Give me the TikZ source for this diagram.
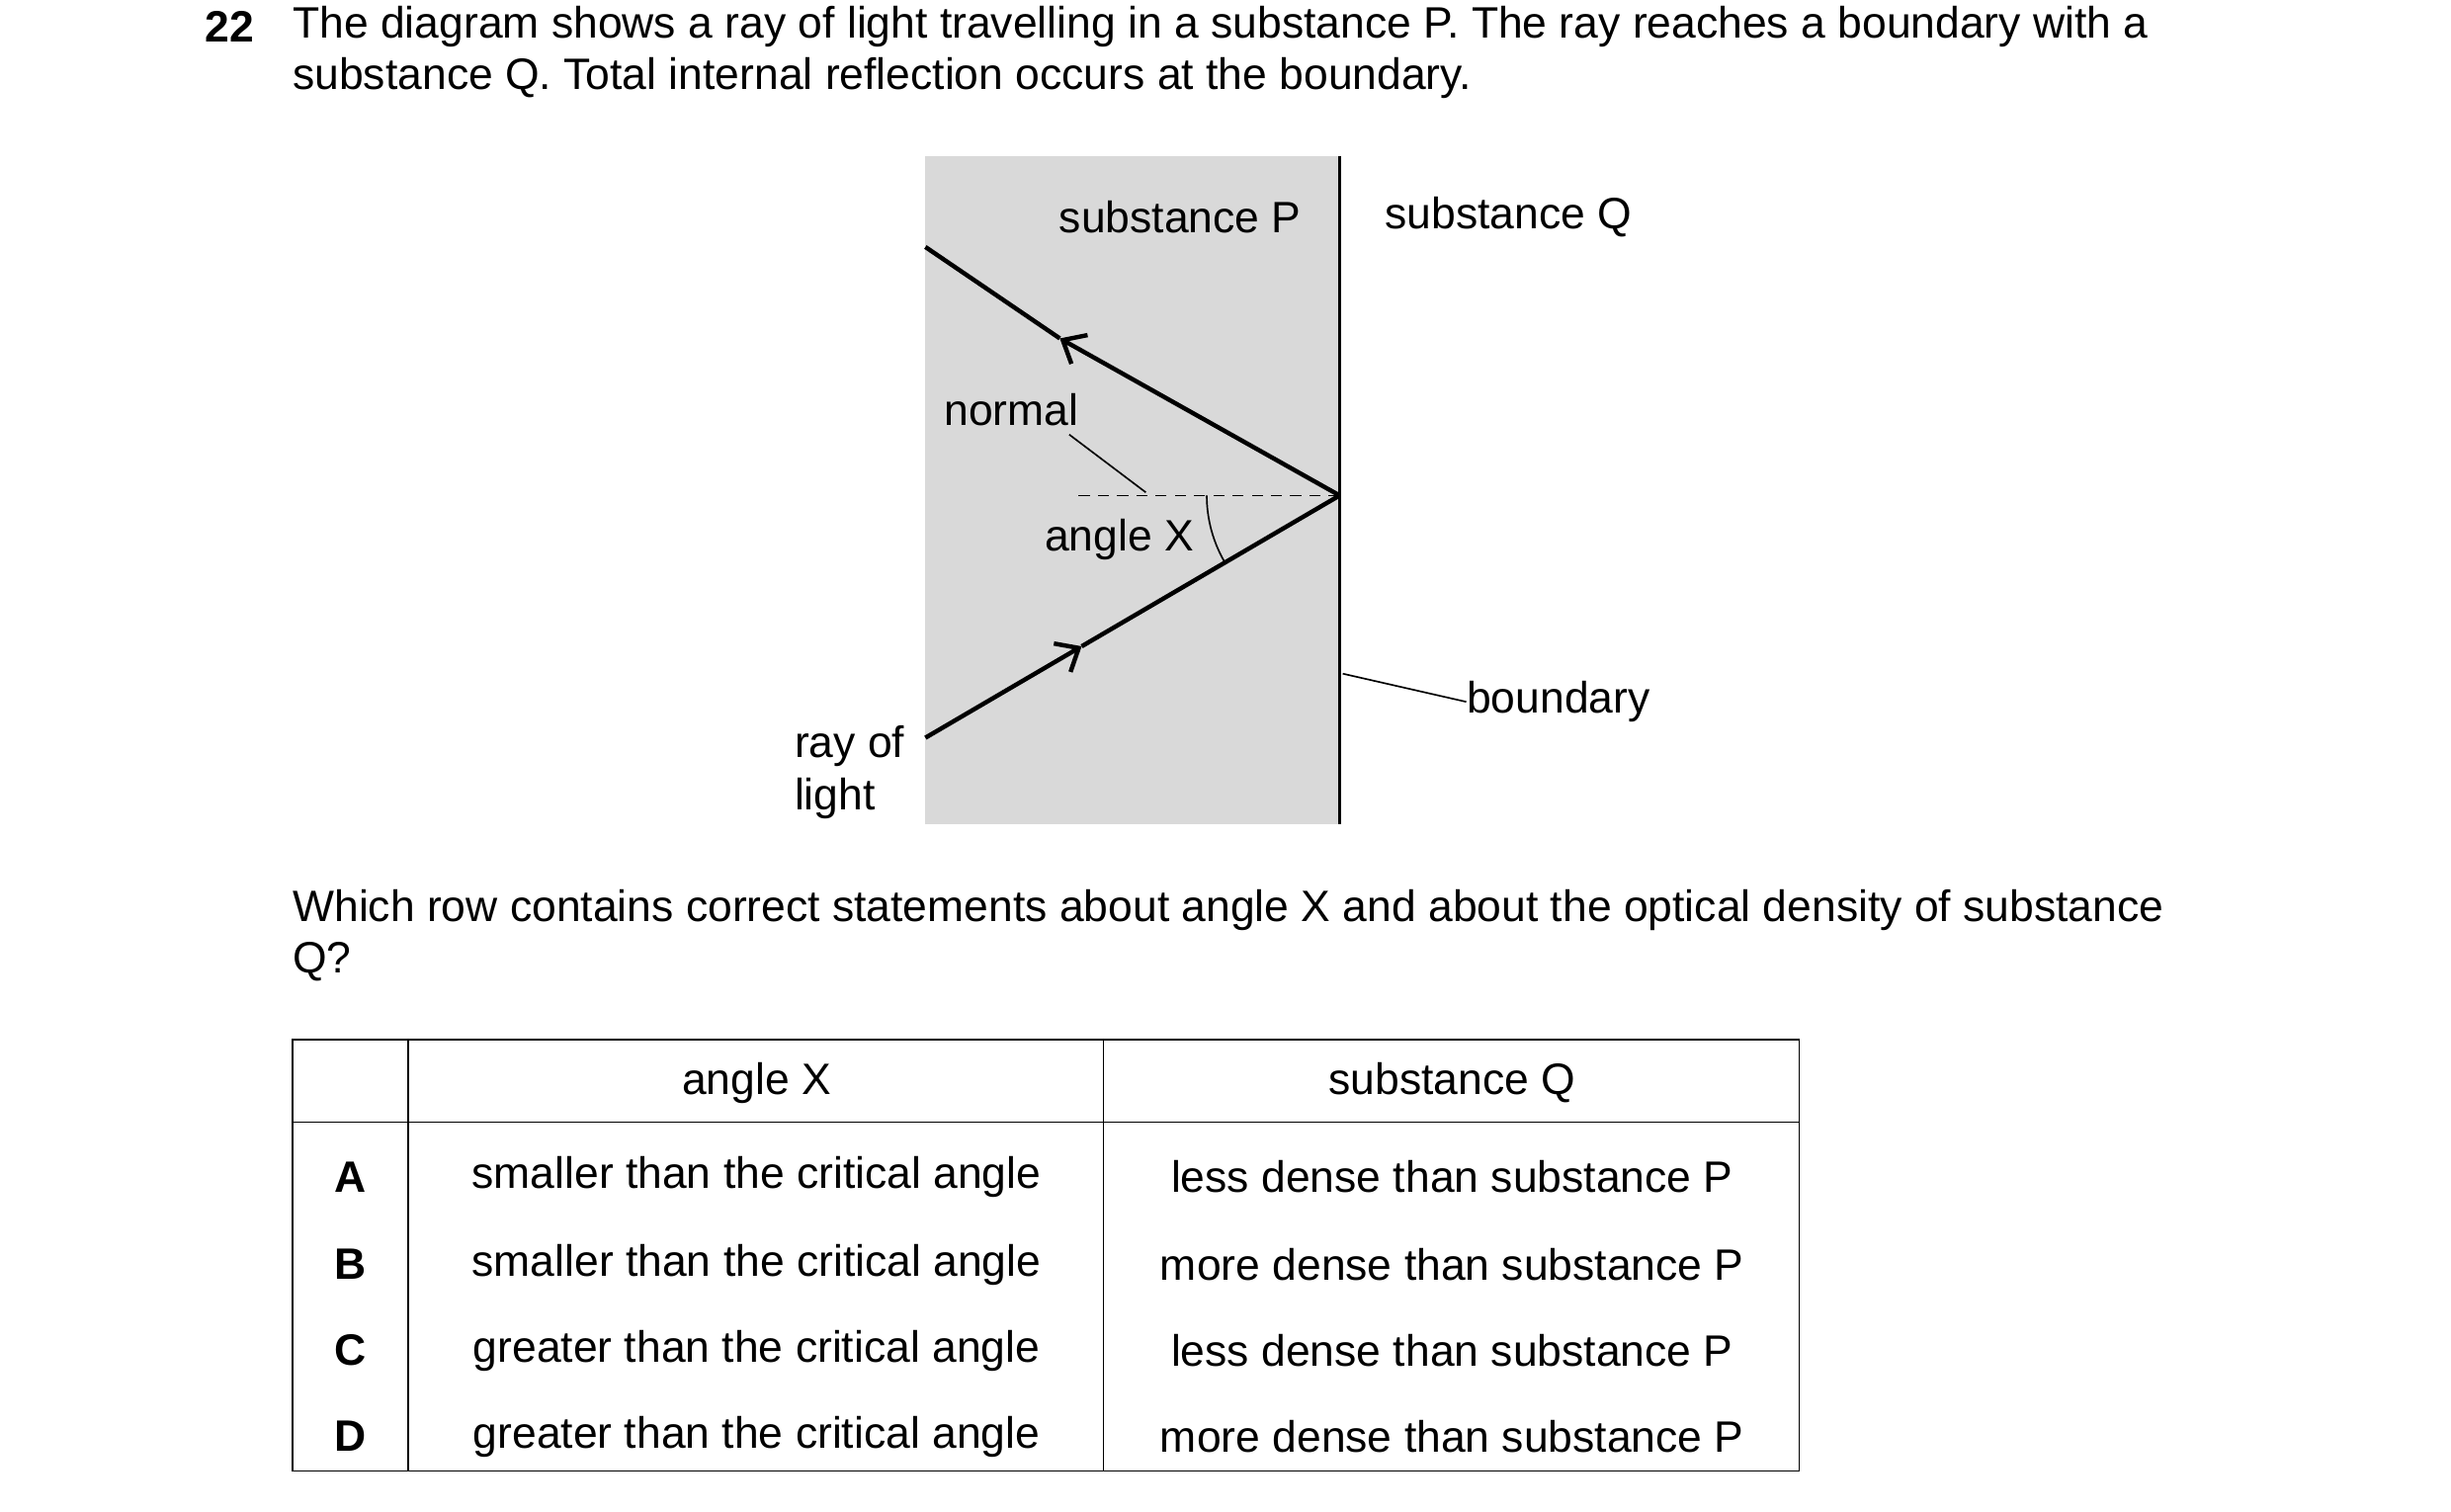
\documentclass[tikz,border=0pt]{standalone}
\usepackage{fontspec}
\setmainfont{Liberation Sans}
\usetikzlibrary{arrows.meta}
\begin{document}
\begin{tikzpicture}[x=0.02cm,y=-0.02cm,font=\fontsize{16}{19}\selectfont]
	\tikzstyle{txt}=[anchor=west,inner sep=0pt]
	\tikzstyle{lbl}=[inner sep=0pt]
	\tikzstyle{ray}=[line width=1.6pt]
	\tikzstyle{thin}=[line width=0.6pt]
	\useasboundingbox (0,0) rectangle (1568,967);
	% question
	\node[txt,font=\fontsize{16}{19}\selectfont\bfseries] (num) at (131,17) {22};
	\node[txt] (q1) at (187,17) {The diagram shows a ray of light travelling in a substance P. The ray reaches a boundary with a};
	\node[txt] (q2) at (187,50) {substance Q. Total internal reflection occurs at the boundary.};
	% substance P block and boundary
	\fill[gray!30] (592,100) rectangle (857,527);
	\coordinate (btop) at (857,100);
	\coordinate (bbot) at (857,527);
	\draw[line width=1.2pt] (btop) -- (bbot);
	% rays
	\coordinate (start) at (592,472);
	\coordinate (hit) at (857,317);
	\coordinate (exit) at (592,158);
	\coordinate (amid) at (692,413.5);
	\coordinate (bmid) at (678,216.5);
	\draw[ray,-{Straight Barb[length=7pt,width=12pt]}] (start) -- (amid);
	\draw[ray] (amid) -- (hit);
	\draw[ray,-{Straight Barb[length=7pt,width=12pt]}] (hit) -- (bmid);
	\draw[ray] (bmid) -- (exit);
	% normal and angle
	\coordinate (nend) at (685,317);
	\draw[thin,dash pattern=on 4pt off 3pt] (hit) -- (nend);
	\draw[thin] (hit) ++(-85,0) arc[start angle=180,end angle=150,radius=85];
	% labels
	\node[lbl] (subP) at (755,139) {substance P};
	\node[lbl] (subQ) at (965,139) {substance Q};
	\node[lbl] (normal) at (647,262) {normal};
	\node[lbl] (angX) at (716,345) {angle X};
	\node[txt] (bound) at (938,449) {boundary};
	\node[txt,align=left] (ray) at (508,494) {ray of\\light};
	\coordinate (nleader) at (733,315);
	\coordinate (bleader) at (859,431);
	\draw[thin] (684,278) -- (nleader);
	\draw[thin] (bleader) -- (bound.west);
	% second question
	\node[txt] (q3) at (187,582) {Which row contains correct statements about angle X and about the optical density of substance};
	\node[txt] (q4) at (187,615) {Q?};
	% table
	\draw[thin] (187,665) rectangle (1151,941);
	\draw[thin] (187,718) -- (1151,718);
	\draw[thin] (261,665) -- (261,941);
	\draw[thin] (706,665) -- (706,941);
	\node[lbl] (h1) at (484,693) {angle X};
	\node[lbl] (h2) at (929,693) {substance Q};
	\foreach \l/\a/\b/\y in {A/smaller/less/753,B/smaller/more/809,C/greater/less/864,D/greater/more/919}{
		\node[lbl,font=\fontsize{16}{19}\selectfont\bfseries] (r\l) at (224,\y) {\l};
		\node[lbl] (a\l) at (484,\y) {\a\ than the critical angle};
		\node[lbl] (b\l) at (929,\y) {\b\ dense than substance P};
	}
\end{tikzpicture}
\end{document}
